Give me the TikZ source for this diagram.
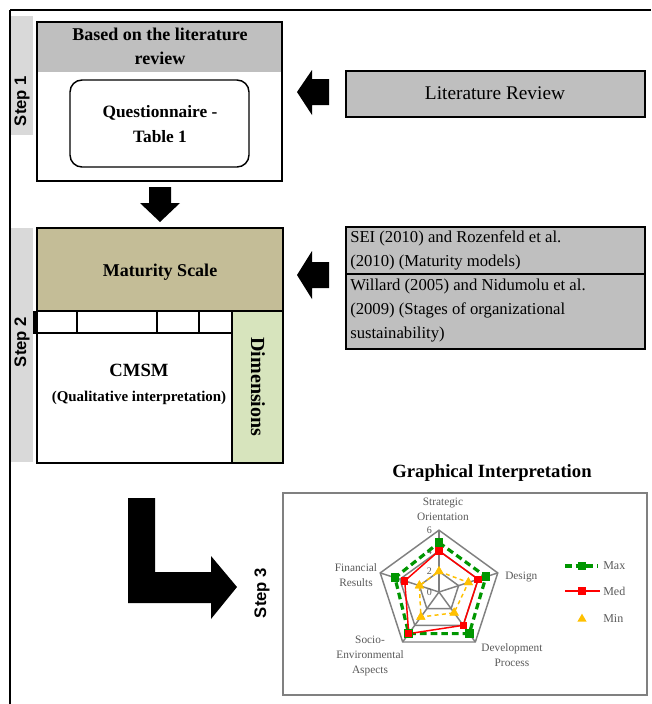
\documentclass[tikz,border=0pt]{standalone}
\usepackage{fontspec}
\setmainfont{Liberation Serif}
\setsansfont{Liberation Sans}
\usetikzlibrary{shapes.geometric}

\definecolor{stepgray}{RGB}{217,217,217}
\definecolor{headgray}{RGB}{191,191,191}
\definecolor{scaletan}{RGB}{196,189,151}
\definecolor{dimgreen}{RGB}{215,228,189}
\definecolor{maxgreen}{RGB}{0,150,0}
\definecolor{mingold}{RGB}{255,192,0}
\definecolor{axisgray}{RGB}{128,128,128}
\definecolor{labelgray}{RGB}{89,89,89}

\begin{document}
\begin{tikzpicture}[x=0.75pt,y=0.75pt,yscale=-1,xscale=1,
  frame/.style={line width=1.5pt},
  blockarrow/.style={fill=black},
  steplabel/.style={rotate=90,inner sep=0.75pt,font=\sffamily\bfseries\fontsize{12.5}{14}\selectfont},
  boxtext/.style={inner sep=0.75pt,align=center},
  reftext/.style={inner sep=0.75pt,align=left,anchor=west,font=\fontsize{12.5}{18}\selectfont},
  gridline/.style={axisgray,line width=1.1pt},
  axislabel/.style={inner sep=0.75pt,align=center,text=labelgray,font=\fontsize{8.5}{11.5}\selectfont},
  maxmark/.style={rectangle,fill=maxgreen,minimum size=6.5pt,inner sep=0pt},
  medmark/.style={rectangle,fill=red,minimum size=5.5pt,inner sep=0pt},
  minmark/.style={regular polygon,regular polygon sides=3,fill=mingold,minimum size=8pt,inner sep=0pt},
  maxline/.style={maxgreen,line width=2.4pt,dash pattern=on 5pt off 3pt},
  medline/.style={red,line width=1.1pt},
  minline/.style={mingold,line width=1.1pt,dash pattern=on 3pt off 2.5pt}
]
\useasboundingbox (0,0) rectangle (651,704);

%Straight Lines: outer frame
\draw[line width=2.2pt] (10,10) -- (651,10) ;
\draw[line width=2.2pt] (10,10) -- (10,704) ;

%Shape: Rectangle (step bars)
\fill[stepgray] (11,16) rectangle (33,135) ;
\fill[stepgray] (11,228) rectangle (33,462) ;

%Shape: Rectangle (step 1)
\fill[headgray] (37,22) rectangle (282,72) ;
\draw[frame] (37,22) rectangle (282,181) ;
%Shape: Rounded Rectangle
\draw[line width=1.1pt,rounded corners=9pt] (70,80) rectangle (249,167) ;

%Shape: Rectangle (literature review)
\draw[frame,fill=headgray] (346,71) rectangle (645,117) ;

%Shape: Block arrows
\fill[blockarrow] (297,92) -- (312,70) -- (312,79) -- (329,79) -- (329,105) -- (312,105) -- (312,115) -- cycle ;
\fill[blockarrow] (297,275) -- (312,251) -- (312,262) -- (329,262) -- (329,288) -- (312,288) -- (312,299) -- cycle ;
\fill[blockarrow] (160,222) -- (140,203) -- (149,203) -- (149,187) -- (171,187) -- (171,203) -- (180,203) -- cycle ;
\fill[blockarrow] (128,498) -- (155,498) -- (155,572) -- (211,572) -- (211,556) -- (237,587) -- (211,619) -- (211,603) -- (128,603) -- cycle ;

%Shape: Rectangle (step 2)
\fill[scaletan] (37,228) rectangle (283,311) ;
\fill[dimgreen] (232,311) rectangle (283,463) ;
\draw[frame] (37,228) rectangle (283,463) ;
\draw[frame] (37,311) -- (283,311) ;
\draw[frame] (37,333) -- (232,333) ;
\draw[frame] (232,311) -- (232,463) ;
\foreach \cx in {77,157,199} {
  \draw[frame] (\cx,311) -- (\cx,333) ;
}
\fill (33,311) rectangle (37,334) ;

%Shape: Rectangle (references)
\draw[frame,fill=headgray] (346,227) rectangle (645,349) ;
\draw[frame] (346,274) -- (645,274) ;

%Shape: Rectangle (chart frame)
\draw[axisgray,line width=1.6pt] (283,493) rectangle (647,695) ;

% Text Node
\draw (22,101) node (step1) [steplabel] {Step 1};
% Text Node
\draw (22,342) node (step2) [steplabel] {Step 2};
% Text Node
\draw (262,593) node (step3) [steplabel] {Step 3};
% Text Node
\draw (160,46) node (based) [boxtext,font=\bfseries\fontsize{13.5}{18}\selectfont] {Based on the literature\\review};
% Text Node
\draw (160,124) node (quest) [boxtext,font=\bfseries\fontsize{13}{19}\selectfont] {Questionnaire -\\Table 1};
% Text Node
\draw (495,93) node (litrev) [boxtext,font=\fontsize{14.5}{18}\selectfont] {Literature Review};
% Text Node
\draw (160,272) node (scale) [boxtext,font=\bfseries\fontsize{13.5}{15}\selectfont] {Maturity Scale};
% Text Node
\draw (139,370) node (cmsm) [boxtext,font=\bfseries\fontsize{14}{16}\selectfont] {CMSM};
% Text Node
\draw (139,398) node (qualit) [boxtext,font=\bfseries\fontsize{11.2}{13}\selectfont] {(Qualitative interpretation)};
% Text Node
\draw (258,387) node (dims) [boxtext,rotate=-90,font=\bfseries\fontsize{15}{17}\selectfont] {Dimensions};
% Text Node
\draw (349,250) node (ref1) [reftext] {SEI (2010) and Rozenfeld et al.\\(2010) (Maturity models)};
% Text Node
\draw (349,311) node (ref2) [reftext] {Willard (2005) and Nidumolu et al.\\(2009) (Stages of organizational\\sustainability)};
% Text Node
\draw (492,473) node (graph) [boxtext,font=\bfseries\fontsize{14}{16}\selectfont] {Graphical Interpretation};

%Radar chart
\begin{scope}[shift={(439,592)},yscale=-1,scale=10.3]
\foreach \r in {2,4,6} {
  \draw[gridline] (90:\r) -- (18:\r) -- (-54:\r) -- (-126:\r) -- (162:\r) -- cycle ;
}
\foreach \a in {90,18,-54,-126,162} {
  \draw[gridline] (0,0) -- (\a:6) ;
}
\foreach \v in {0,2,4,6} {
  \draw (-0.6,\v) node (tick\v) [anchor=east,inner sep=0.5pt,text=labelgray,font=\fontsize{7.5}{8}\selectfont] {\v};
}
\foreach \v [count=\i] in {4.8,4.8,5,5,4.5} {
  \node (max\i) [maxmark] at ({162-72*\i}:\v) {};
}
\foreach \v [count=\i] in {4,4,4,5,3.5} {
  \node (med\i) [medmark] at ({162-72*\i}:\v) {};
}
\foreach \v [count=\i] in {2,3,2.5,3,2} {
  \node (min\i) [minmark] at ({162-72*\i}:\v) {};
}
\draw[maxline] (max1.center) -- (max2.center) -- (max3.center) -- (max4.center) -- (max5.center) -- cycle ;
\draw[medline] (med1.center) -- (med2.center) -- (med3.center) -- (med4.center) -- (med5.center) -- cycle ;
\draw[minline] (min1.center) -- (min2.center) -- (min3.center) -- (min4.center) -- (min5.center) -- cycle ;
\foreach \i in {1,...,5} {
  \node [maxmark] at (max\i) {};
  \node [medmark] at (med\i) {};
  \node [minmark] at (min\i) {};
}
\end{scope}

% Text Node
\draw (443,509) node (so) [axislabel] {Strategic\\Orientation};
% Text Node
\draw (504,577) node (design) [axislabel,anchor=west] {Design};
% Text Node
\draw (512,655) node (dev) [axislabel] {Development\\Process};
% Text Node
\draw (370,656) node (socio) [axislabel] {Socio-\\Environmental\\Aspects};
% Text Node
\draw (356,575) node (fin) [axislabel] {Financial\\Results};

%Legend
\coordinate (lgmaxA) at (565,566);
\coordinate (lgmaxB) at (598,566);
\coordinate (lgmedA) at (565,591);
\coordinate (lgmedB) at (600,591);
\draw[maxline] (lgmaxA) -- (lgmaxB) ;
\draw[medline] (lgmedA) -- (lgmedB) ;
\draw (582,566) node (lgmax) [maxmark] {};
\draw (582,591) node (lgmed) [medmark] {};
\draw (582,619) node (lgmin) [minmark] {};
% Text Node
\draw (602,566) node (tmax) [axislabel,anchor=west,font=\fontsize{9}{10}\selectfont] {Max};
% Text Node
\draw (602,591) node (tmed) [axislabel,anchor=west,font=\fontsize{9}{10}\selectfont] {Med};
% Text Node
\draw (602,619) node (tmin) [axislabel,anchor=west,font=\fontsize{9}{10}\selectfont] {Min};

\end{tikzpicture}
\end{document}
